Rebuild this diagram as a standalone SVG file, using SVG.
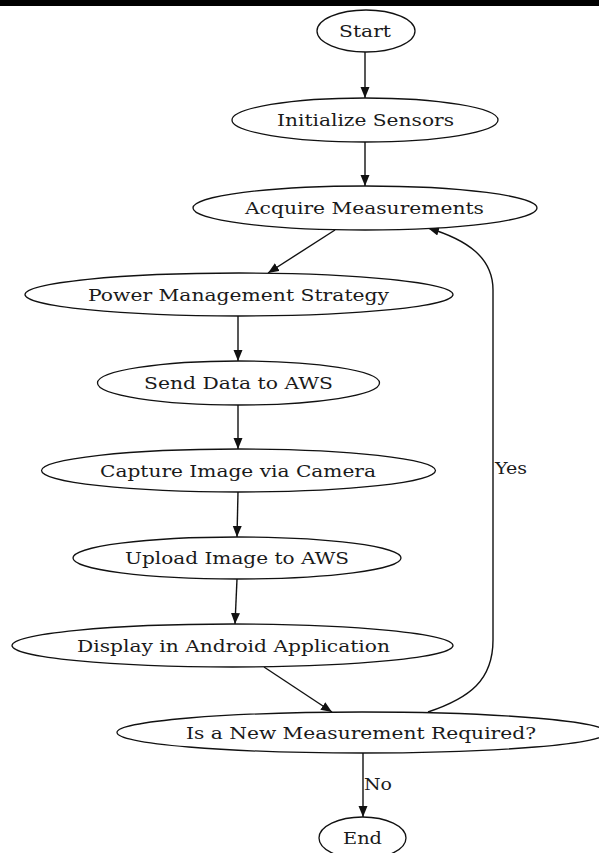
<svg xmlns="http://www.w3.org/2000/svg" width="599" height="853" viewBox="0 0 599 853">
<defs>
<style>
.node ellipse{fill:#fff;stroke:#111;stroke-width:1.3}
.node text,.lbl{font-family:"DejaVu Serif","Liberation Serif",serif;font-size:16.5px;fill:#1a1a1a;text-anchor:middle}
.edge{fill:none;stroke:#111;stroke-width:1.4}
</style>
<marker id="ah" markerUnits="userSpaceOnUse" markerWidth="13" markerHeight="10" refX="11" refY="4.5" orient="auto">
<path d="M0,0 L11,4.5 L0,9 z" fill="#111"/>
</marker>
</defs>
<rect x="0" y="0" width="599" height="853" fill="#fff"/>
<rect x="0" y="0" width="599" height="6" fill="#000"/>
<g id="connectors">
<path class="edge" d="M365,52 L365,98" marker-end="url(#ah)"/>
<path class="edge" d="M365,142 L365,186" marker-end="url(#ah)"/>
<path class="edge" d="M335,230 L268,273" marker-end="url(#ah)"/>
<path class="edge" d="M238,316 L238,361" marker-end="url(#ah)"/>
<path class="edge" d="M238,405 L238,449" marker-end="url(#ah)"/>
<path class="edge" d="M238,492 L237,537" marker-end="url(#ah)"/>
<path class="edge" d="M237,579 L235,624" marker-end="url(#ah)"/>
<path class="edge" d="M264,667 L332,712" marker-end="url(#ah)"/>
<path class="edge" d="M428,712 C470,698 493,680 493,640 L493,290 C493,258 468,240 428,228" marker-end="url(#ah)"/>
<path class="edge" d="M363,753 L363,817" marker-end="url(#ah)"/>
<text class="lbl" x="511" y="474" textLength="32" lengthAdjust="spacingAndGlyphs">Yes</text>
<text class="lbl" x="378" y="790" textLength="28" lengthAdjust="spacingAndGlyphs">No</text>
</g>
<g id="start" class="node"><ellipse cx="366" cy="31" rx="49" ry="21"/><text x="365" y="37" textLength="52" lengthAdjust="spacingAndGlyphs">Start</text></g>
<g id="init" class="node"><ellipse cx="365" cy="120" rx="133" ry="22"/><text x="365.5" y="126" textLength="177" lengthAdjust="spacingAndGlyphs">Initialize Sensors</text></g>
<g id="acquire" class="node"><ellipse cx="365" cy="208" rx="172" ry="22"/><text x="364.5" y="214" textLength="239" lengthAdjust="spacingAndGlyphs">Acquire Measurements</text></g>
<g id="power" class="node"><ellipse cx="239" cy="294.5" rx="214" ry="21.5"/><text x="238.5" y="300.5" textLength="301" lengthAdjust="spacingAndGlyphs">Power Management Strategy</text></g>
<g id="send" class="node"><ellipse cx="238.5" cy="383" rx="141" ry="22"/><text x="238.5" y="389" textLength="189" lengthAdjust="spacingAndGlyphs">Send Data to AWS</text></g>
<g id="capture" class="node"><ellipse cx="238.5" cy="470.5" rx="197" ry="21.5"/><text x="238" y="476.5" textLength="276" lengthAdjust="spacingAndGlyphs">Capture Image via Camera</text></g>
<g id="upload" class="node"><ellipse cx="237" cy="558" rx="164" ry="21"/><text x="237" y="564" textLength="224" lengthAdjust="spacingAndGlyphs">Upload Image to AWS</text></g>
<g id="display" class="node"><ellipse cx="232.5" cy="645.5" rx="220.5" ry="21.5"/><text x="233.5" y="651.5" textLength="313" lengthAdjust="spacingAndGlyphs">Display in Android Application</text></g>
<g id="decision" class="node"><ellipse cx="362" cy="732.5" rx="245" ry="20.5"/><text x="361" y="738.5" textLength="350" lengthAdjust="spacingAndGlyphs">Is a New Measurement Required?</text></g>
<g id="end" class="node"><ellipse cx="362.5" cy="838" rx="43.5" ry="21"/><text x="362.5" y="844" textLength="39" lengthAdjust="spacingAndGlyphs">End</text></g>
</svg>
